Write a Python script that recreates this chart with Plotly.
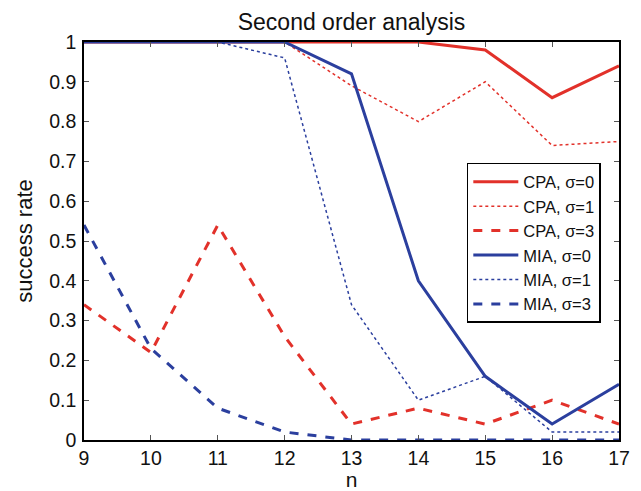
import plotly.graph_objects as go

n = [9, 10, 11, 12, 13, 14, 15, 16, 17]
cpa_s0 = [1, 1, 1, 1, 1, 1, 0.98, 0.86, 0.94]
cpa_s1 = [1, 1, 1, 1, 0.89, 0.80, 0.90, 0.74, 0.75]
cpa_s3 = [0.34, 0.22, 0.54, 0.26, 0.04, 0.08, 0.04, 0.10, 0.04]
mia_s0 = [1, 1, 1, 1, 0.92, 0.40, 0.16, 0.04, 0.14]
mia_s1 = [1, 1, 1, 0.96, 0.34, 0.10, 0.16, 0.02, 0.02]
mia_s3 = [0.54, 0.23, 0.08, 0.02, 0.0, 0.0, 0.0, 0.0, 0.0]
y_ticks = [0, 0.1, 0.2, 0.3, 0.4, 0.5, 0.6, 0.7, 0.8, 0.9, 1]
y_tick_labels = ["0", "0.1", "0.2", "0.3", "0.4", "0.5", "0.6", "0.7", "0.8", "0.9", "1"]

RED = "#e2312a"
BLUE = "#2b3f9e"

series = [
    ("CPA, σ=0", cpa_s0, RED, "solid", 3),
    ("CPA, σ=1", cpa_s1, RED, "dot", 1.5),
    ("CPA, σ=3", cpa_s3, RED, "dash", 3),
    ("MIA, σ=0", mia_s0, BLUE, "solid", 3),
    ("MIA, σ=1", mia_s1, BLUE, "dot", 1.5),
    ("MIA, σ=3", mia_s3, BLUE, "dash", 3),
]

fig = go.Figure()
for name, y, c, d, w in series:
    fig.add_trace(go.Scatter(x=n, y=y, name=name, mode="lines",
                             line=dict(color=c, dash=d, width=w)))

axis_common = dict(showgrid=False, zeroline=False, mirror="ticks", ticks="inside",
                   ticklen=5, tickcolor="#555", showline=True, linecolor="black",
                   linewidth=1.5, tickfont=dict(size=19.5, color="#111"), automargin=False)

# page body has an 8px margin; figure shrunk so plot area lands at the reference pixels
fig.update_layout(
    width=633, height=483,
    margin=dict(l=76, r=22, t=34, b=51, autoexpand=False),
    paper_bgcolor="white", plot_bgcolor="white",
    font=dict(family="Liberation Sans, Arial, sans-serif", size=17, color="#111"),
    title=dict(text="Second order analysis", x=0.5, xanchor="center", xref="paper",
               y=0.972, yanchor="middle", font=dict(size=23)),
    xaxis=dict(range=[9, 17], tickvals=n, ticklabelstandoff=0,
               title=dict(text="n", standoff=7, font=dict(size=21)),
               **axis_common),
    yaxis=dict(range=[0, 1], tickvals=y_ticks, ticktext=y_tick_labels, ticklabelstandoff=2,
               title=dict(text="success rate", standoff=11, font=dict(size=22)), **axis_common),
    legend=dict(x=0.966, xanchor="right", y=0.696, yanchor="top", bgcolor="white",
                bordercolor="black", borderwidth=1.5, font=dict(size=16.5),
                tracegroupgap=0, itemwidth=45),
    showlegend=True,
)

fig.write_html("out.html")
